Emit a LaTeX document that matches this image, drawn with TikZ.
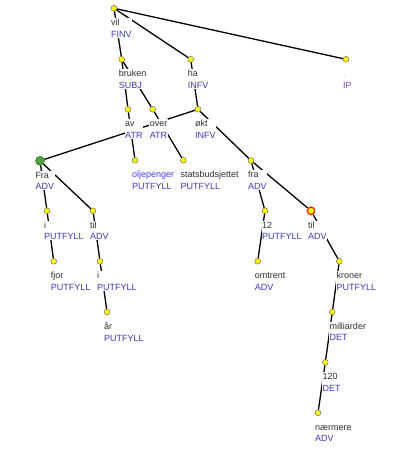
\documentclass[tikz,border=0pt]{standalone}
\usepackage{fontspec}
\setmainfont{Liberation Sans}
\definecolor{wordc}{HTML}{303030}
\definecolor{tagc}{HTML}{4038C0}
\definecolor{ipc}{HTML}{8048C8}
\definecolor{hlc}{HTML}{4040F0}
\definecolor{dotfill}{HTML}{FFFF00}
\definecolor{dotline}{HTML}{707060}
\definecolor{greenfill}{HTML}{50A040}
\definecolor{greenline}{HTML}{307020}
\definecolor{redline}{HTML}{FF2020}
\tikzset{
  dot/.style={circle, inner sep=0pt, minimum size=5.8pt, fill=dotfill, draw=dotline, line width=0.5pt},
  rootdot/.style={circle, inner sep=0pt, minimum size=9pt, fill=greenfill, draw=greenline, line width=0.5pt},
  seldot/.style={circle, inner sep=0pt, minimum size=7.5pt, fill=dotfill, draw=redline, line width=1.3pt},
  lbl/.style={anchor=north west, inner sep=0.5pt, fill=white, align=left,
    font=\fontsize{9}{11.6}\selectfont},
  link/.style={line width=1.3pt, black}
}
\newcommand\lab[4][0]{%
  \node[lbl, xshift=-3.5pt-#1pt, yshift=-9.6pt] (#2l) at (#2.center)
    {\rule{0pt}{7pt}#3\\#4};}
\begin{document}
\begin{tikzpicture}[x=1pt, y=-1pt]
\useasboundingbox (0,0) rectangle (417,457);
% dots
\node[dot] (vil) at (114,8.3) {};
\node[dot] (bruken) at (121.7,59.3) {};
\node[dot] (ha) at (190.7,59.3) {};
\node[dot] (IP) at (346,59.3) {};
\node[dot] (av) at (128,109.3) {};
\node[dot] (over) at (152.7,109.3) {};
\node[dot] (okt) at (198,109.3) {};
\node[rootdot] (Fra) at (40,160.8) {};
\node[dot] (olje) at (135,160.3) {};
\node[dot] (stats) at (183.3,160.3) {};
\node[dot] (fra) at (251,160.5) {};
\node[dot] (ia) at (47,210.8) {};
\node[dot] (tila) at (93,210.8) {};
\node[dot] (tolv) at (265,210.8) {};
\node[seldot] (tilb) at (311,210.8) {};
\node[dot] (fjor) at (53.7,261.3) {};
\node[dot] (ib) at (100,261.3) {};
\node[dot] (omtrent) at (257.7,261.3) {};
\node[dot] (kroner) at (339.3,261.3) {};
\node[dot] (aar) at (107,312) {};
\node[dot] (mill) at (332.3,312) {};
\node[dot] (hundre) at (325.3,362.3) {};
\node[dot] (naer) at (318,412.8) {};
% links
\draw[link] (vil) -- (bruken);
\draw[link] (vil) -- (ha);
\draw[link] (vil) -- (IP);
\draw[link] (bruken) -- (av);
\draw[link] (bruken) -- (over);
\draw[link] (av) -- (olje);
\draw[link] (over) -- (stats);
\draw[link] (ha) -- (okt);
\draw[link] (okt) -- (Fra);
\draw[link] (okt) -- (fra);
\draw[link] (fra) -- (tilb);
\draw[link] (Fra) -- (ia);
\draw[link] (Fra) -- (tila);
\draw[link] (ia) -- (fjor);
\draw[link] (tila) -- (ib);
\draw[link] (ib) -- (aar);
\draw[link] (fra) -- (tolv);
\draw[link] (tolv) -- (omtrent);
\draw[link] (tilb) -- (kroner);
\draw[link] (kroner) -- (mill);
\draw[link] (mill) -- (hundre);
\draw[link] (hundre) -- (naer);
% labels
\lab{vil}{\textcolor{wordc}{vil}}{\textcolor{tagc}{FINV}}
\lab{bruken}{\textcolor{wordc}{bruken}}{\textcolor{tagc}{SUBJ}}
\lab{ha}{\textcolor{wordc}{ha}}{\textcolor{tagc}{INFV}}
\lab{IP}{\textcolor{black!25}{.}}{\textcolor{ipc}{IP}}
\lab{av}{\textcolor{wordc}{av}}{\textcolor{tagc}{ATR}}
\lab{over}{\textcolor{wordc}{over}}{\textcolor{tagc}{ATR}}
\lab{okt}{\textcolor{wordc}{økt}}{\textcolor{tagc}{INFV}}
\lab[1.7]{Fra}{\textcolor{wordc}{Fra}}{\textcolor{tagc}{ADV}}
\lab{olje}{\textcolor{hlc}{oljepenger}}{\textcolor{tagc}{PUTFYLL}}
\lab{stats}{\textcolor{wordc}{statsbudsjettet}}{\textcolor{tagc}{PUTFYLL}}
\lab{fra}{\textcolor{wordc}{fra}}{\textcolor{tagc}{ADV}}
\lab{ia}{\textcolor{wordc}{i}}{\textcolor{tagc}{PUTFYLL}}
\lab{tila}{\textcolor{wordc}{til}}{\textcolor{tagc}{ADV}}
\lab{tolv}{\textcolor{wordc}{12}}{\textcolor{tagc}{PUTFYLL}}
\lab{tilb}{\textcolor{wordc}{til}}{\textcolor{tagc}{ADV}}
\lab{fjor}{\textcolor{wordc}{fjor}}{\textcolor{tagc}{PUTFYLL}}
\lab{ib}{\textcolor{wordc}{i}}{\textcolor{tagc}{PUTFYLL}}
\lab{omtrent}{\textcolor{wordc}{omtrent}}{\textcolor{tagc}{ADV}}
\lab{kroner}{\textcolor{wordc}{kroner}}{\textcolor{tagc}{PUTFYLL}}
\lab{aar}{\textcolor{wordc}{år}}{\textcolor{tagc}{PUTFYLL}}
\lab{mill}{\textcolor{wordc}{milliarder}}{\textcolor{tagc}{DET}}
\lab{hundre}{\textcolor{wordc}{120}}{\textcolor{tagc}{DET}}
\lab{naer}{\textcolor{wordc}{nærmere}}{\textcolor{tagc}{ADV}}
\end{tikzpicture}
\end{document}
